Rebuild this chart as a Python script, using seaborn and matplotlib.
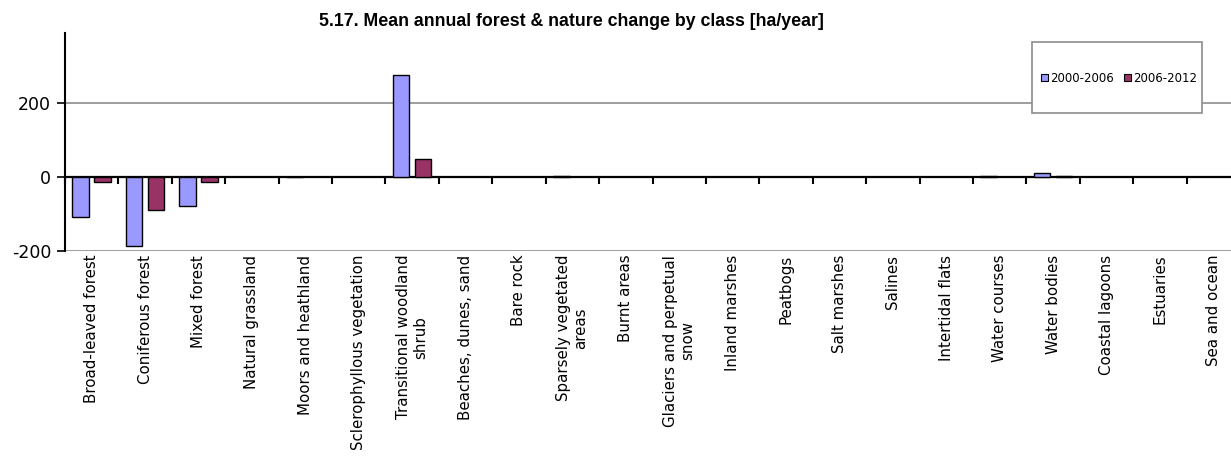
import matplotlib
matplotlib.use("Agg")
import matplotlib.pyplot as plt
import matplotlib.patches as mpatches
import seaborn as sns
import pandas as pd

classes = [
    "Broad-leaved forest", "Coniferous forest", "Mixed forest", "Natural grassland",
    "Moors and heathland", "Sclerophyllous vegetation", "Transitional woodland\nshrub",
    "Beaches, dunes, sand", "Bare rock", "Sparsely vegetated\nareas", "Burnt areas",
    "Glaciers and perpetual\nsnow", "Inland marshes", "Peatbogs", "Salt marshes",
    "Salines", "Intertidal flats", "Water courses", "Water bodies", "Coastal lagoons",
    "Estuaries", "Sea and ocean",
]
periods = ["2000-2006", "2006-2012"]
change_2000_2006 = [-110, -187, -78, 0, -2, 0, 275, 0, 0, 2, 0, 0, 0, 0, 0, 0, 0, 1, 9, 0, 0, 0]
change_2006_2012 = [-13, -91, -15, 0, 0, 0, 48, 0, 0, 0, 0, 0, 0, 0, 0, 0, 0, 0, 2, 0, 0, 0]

df = pd.DataFrame({
    "class": classes * 2,
    "period": [periods[0]] * len(classes) + [periods[1]] * len(classes),
    "change": change_2000_2006 + change_2006_2012,
})

sns.set_theme(style="white")
plt.rcParams["font.family"] = ["DejaVu Sans"]
plt.rcParams["text.color"] = "black"
plt.rcParams["xtick.color"] = "black"
plt.rcParams["ytick.color"] = "black"

W, H = 1231, 459
fig = plt.figure(figsize=(W / 100, H / 100), dpi=100)
left, right, top, bottom = 65, 1240, 32.5, 250.7
ax = fig.add_axes([left / W, 1 - bottom / H, (right - left) / W, (bottom - top) / H])

palette = {"2000-2006": "#9999FF", "2006-2012": "#993366"}
sns.barplot(data=df, x="class", y="change", hue="period", hue_order=periods,
            palette=palette, width=0.82, gap=0.245, edgecolor="black",
            linewidth=1.0, saturation=1, ax=ax, legend=False, zorder=3)

# zero-height bars leave no visible mark
for bar in ax.patches:
    if bar.get_height() == 0:
        bar.set_visible(False)

ymin, ymax = -200, 390
ax.set_ylim(ymin, ymax)
ax.set_xlim(-0.5, len(classes) - 0.5)
ax.set_yticks([-200, 0, 200])
ax.set_yticklabels(["-200", "0", "200"])
ax.set_xlabel("")
ax.set_ylabel("")

ax.yaxis.grid(True, color="#8c8c8c", linewidth=1.2)
ax.set_axisbelow(True)
ax.tick_params(axis="y", which="major", direction="out", length=6, width=1.2,
               color="black", labelcolor="black", labelsize=12.5, pad=4, left=True)
ax.tick_params(axis="x", which="major", length=0, labelsize=10.8, pad=3,
               labelcolor="black")
for lbl in ax.get_xticklabels():
    lbl.set_rotation(90)
    lbl.set_ha("center")
    lbl.set_va("top")
    lbl.set_multialignment("center")
    lbl.set_linespacing(1.15)

for side in ["top", "right", "bottom"]:
    ax.spines[side].set_visible(False)
ax.spines["left"].set_color("black")
ax.spines["left"].set_linewidth(1.5)

# Category axis drawn at zero, with ticks between the classes
zero_ax = ax.secondary_xaxis((0 - ymin) / (ymax - ymin))
zero_ax.set_xticks([i + 0.5 for i in range(-1, len(classes))])
zero_ax.set_xticklabels([])
zero_ax.tick_params(direction="out", length=5, width=1.5, color="black")
zero_ax.spines["bottom"].set_color("black")
zero_ax.spines["bottom"].set_linewidth(1.6)
zero_ax.set_zorder(2.5)

fig.text(571 / W, 1 - 26 / H, "5.17. Mean annual forest & nature change by class [ha/year]",
         ha="center", va="baseline", fontsize=12.8, fontweight="bold",
         color="black", family=["Liberation Sans"])

# Legend box
box = mpatches.Rectangle((1032 / W, 1 - 113 / H), 170 / W, 71 / H,
                         transform=fig.transFigure, facecolor="white",
                         edgecolor="#8c8c8c", linewidth=1.2, zorder=5)
fig.patches.append(box)
handles = [mpatches.Patch(facecolor=palette[p], edgecolor="black", linewidth=0.8, label=p)
           for p in periods]
leg = fig.legend(handles=handles, loc="center", bbox_to_anchor=(1119 / W, 1 - 78 / H),
                 ncol=2, frameon=False, fontsize=8.5, handlelength=0.6, handleheight=0.6,
                 handletextpad=0.15, columnspacing=0.9, borderpad=0)
for t in leg.get_texts():
    t.set_color("black")

fig.savefig("out.png", dpi=100)
